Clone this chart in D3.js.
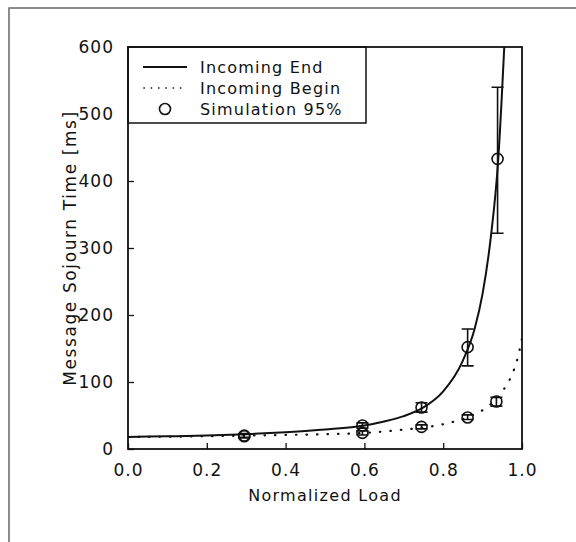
<!DOCTYPE html>
<html>
<head>
<meta charset="utf-8">
<script src="https://cdn.jsdelivr.net/npm/d3@7"></script>
<style>
body { margin: 0; background: #fff; }
svg text { font-family: "DejaVu Sans", sans-serif; fill: #111; }
</style>
</head>
<body>
<div class="graphics"></div>
<script>
// values
var xTicks = [0, 0.2, 0.4, 0.6, 0.8, 1.0]
var yTicks = [0, 100, 200, 300, 400, 500, 600]

// analytic curve "Incoming End" (load, ms)
var endLoad = [0, 0.1, 0.2, 0.3, 0.4, 0.5, 0.6, 0.65, 0.7, 0.75, 0.8, 0.85, 0.88, 0.9, 0.92, 0.94, 0.955]
var endTime = [18, 19, 20, 22, 25, 29, 35, 41, 49, 62, 86, 132, 180, 232, 312, 435, 600]

// analytic curve "Incoming Begin"
var beginLoad = [0, 0.2, 0.3, 0.4, 0.5, 0.6, 0.7, 0.75, 0.8, 0.86, 0.9, 0.93, 0.95, 0.97, 0.99, 1.0]
var beginTime = [18, 19, 20, 21, 22, 24, 29, 32, 37, 47, 58, 72, 86, 105, 138, 165]

// simulation points with 95% interval
var simLoad = [0.295, 0.595, 0.745, 0.862, 0.938, 0.295, 0.595, 0.745, 0.862, 0.935]
var simMean = [20, 35, 62, 152, 433, 19, 24, 33, 47, 71]
var simLow  = [17, 31, 55, 124, 322, 17, 21, 30, 44, 64]
var simHigh = [23, 39, 69, 179, 540, 22, 27, 36, 51, 77]

var legendLabels = ["Incoming End", "Incoming Begin", "Simulation 95%"]

var w = 576, h = 542
var pLeft = 128, pRight = 522, pTop = 47, pBottom = 449

var svg = d3.select('.graphics')
    .append('svg')
    .attr('width', w)
    .attr('height', h)

// page frame from the scan
svg.append('path')
    .attr('d', 'M9,542 L9,8 L576,8')
    .attr('fill', 'none')
    .attr('stroke', '#666')
    .attr('stroke-width', 1.5)

var x = d3.scaleLinear().domain([0, 1]).range([pLeft, pRight])
var y = d3.scaleLinear().domain([0, 600]).range([pBottom, pTop])

svg.append('g')
    .attr('transform', 'translate(0,' + pBottom + ')')
    .call(d3.axisBottom(x).tickValues(xTicks).tickFormat(d3.format('.1f')).tickSize(-6).tickPadding(15))
svg.append('g')
    .attr('transform', 'translate(' + pLeft + ',0)')
    .call(d3.axisLeft(y).tickValues(yTicks).tickSize(-6).tickPadding(14))

svg.selectAll('.domain').remove()
svg.selectAll('.tick line').attr('stroke', '#111').attr('stroke-width', 1.3)
svg.selectAll('.tick text')
    .attr('font-size', 17)
    .attr('letter-spacing', 1)
    .attr('fill', '#111')
    .style('font-family', '"DejaVu Sans", sans-serif')

svg.append('text')
    .attr('x', (pLeft + pRight) / 2)
    .attr('y', 501)
    .attr('text-anchor', 'middle')
    .attr('font-size', 16)
    .attr('letter-spacing', 1.3)
    .text('Normalized Load')

svg.append('text')
    .attr('transform', 'translate(76,' + ((pTop + pBottom) / 2) + ') rotate(-90)')
    .attr('text-anchor', 'middle')
    .attr('font-size', 17)
    .attr('letter-spacing', 1.6)
    .text('Message Sojourn Time [ms]')

// clip curves to the plot
svg.append('clipPath').attr('id', 'plotclip')
    .append('rect')
    .attr('x', pLeft).attr('y', pTop)
    .attr('width', pRight - pLeft).attr('height', pBottom - pTop)

var line = d3.line()
    .x(function(d){ return x(d[0]) })
    .y(function(d){ return y(d[1]) })
    .curve(d3.curveMonotoneX)

var endData = endLoad.map(function(d, i){ return [d, endTime[i]] })
var beginData = beginLoad.map(function(d, i){ return [d, beginTime[i]] })

var plot = svg.append('g').attr('clip-path', 'url(#plotclip)')

plot.append('path')
    .datum(endData)
    .attr('d', line)
    .attr('fill', 'none')
    .attr('stroke', '#111')
    .attr('stroke-width', 2)

plot.append('path')
    .datum(beginData)
    .attr('d', line)
    .attr('fill', 'none')
    .attr('stroke', '#111')
    .attr('stroke-width', 2.2)
    .attr('stroke-linecap', 'round')
    .attr('stroke-dasharray', '0.5,10')

// simulation points + error bars
var sims = simLoad.map(function(d, i){
    return {x: d, m: simMean[i], lo: simLow[i], hi: simHigh[i]}
})
var capW = 6
var g = svg.selectAll('.sim')
    .data(sims)
    .enter()
    .append('g')
    .attr('class', 'sim')

g.append('path')
    .attr('d', function(d){
        var cx = x(d.x)
        return 'M' + (cx - capW) + ',' + y(d.hi) + 'H' + (cx + capW) +
               'M' + cx + ',' + y(d.hi) + 'V' + y(d.lo) +
               'M' + (cx - capW) + ',' + y(d.lo) + 'H' + (cx + capW)
    })
    .attr('fill', 'none')
    .attr('stroke', '#111')
    .attr('stroke-width', 1.6)

g.append('circle')
    .attr('cx', function(d){ return x(d.x) })
    .attr('cy', function(d){ return y(d.m) })
    .attr('r', 5.5)
    .attr('fill', 'none')
    .attr('stroke', '#111')
    .attr('stroke-width', 1.6)

// legend box
var legend = svg.append('g')
legend.append('rect')
    .attr('x', pLeft).attr('y', pTop)
    .attr('width', 366 - pLeft).attr('height', 123 - pTop)
    .attr('fill', '#fff')
    .attr('stroke', '#111')
    .attr('stroke-width', 1.5)

var rowY = [67, 88, 109]
legend.selectAll('text')
    .data(legendLabels)
    .enter()
    .append('text')
    .attr('x', 200)
    .attr('y', function(d, i){ return rowY[i] + 6 })
    .attr('font-size', 16)
    .attr('letter-spacing', 1.2)
    .text(function(d){ return d })

legend.append('line')
    .attr('x1', 143).attr('x2', 187)
    .attr('y1', rowY[0]).attr('y2', rowY[0])
    .attr('stroke', '#111').attr('stroke-width', 2)
legend.append('line')
    .attr('x1', 144).attr('x2', 187)
    .attr('y1', rowY[1]).attr('y2', rowY[1])
    .attr('stroke', '#111').attr('stroke-width', 1.6)
    .attr('stroke-linecap', 'round')
    .attr('stroke-dasharray', '0.3,7')
legend.append('circle')
    .attr('cx', 165).attr('cy', rowY[2])
    .attr('r', 5.5)
    .attr('fill', 'none')
    .attr('stroke', '#111').attr('stroke-width', 1.6)

// plot frame on top
svg.append('rect')
    .attr('x', pLeft).attr('y', pTop)
    .attr('width', pRight - pLeft).attr('height', pBottom - pTop)
    .attr('fill', 'none')
    .attr('stroke', '#111')
    .attr('stroke-width', 1.8)
</script>
</body>
</html>
